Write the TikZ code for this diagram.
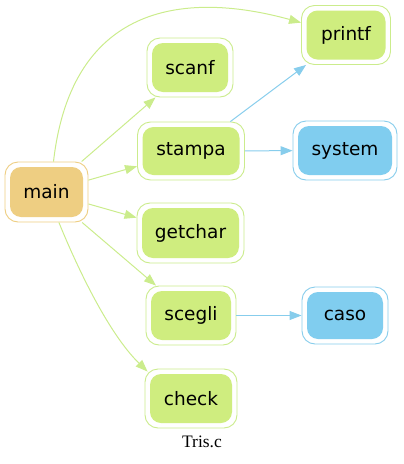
\documentclass[tikz,border=0pt]{standalone}
\usepackage{fontspec}
\setmainfont{DejaVu Sans}
\newfontfamily\capfont{Liberation Serif}
\usetikzlibrary{arrows.meta}
\definecolor{gfill}{RGB}{207,237,127}
\definecolor{ofill}{RGB}{238,206,130}
\definecolor{bfill}{RGB}{128,205,239}
\definecolor{gedge}{RGB}{203,236,140}
\definecolor{bedge}{RGB}{135,205,236}
\begin{document}
\begin{tikzpicture}[x=1pt,y=-1pt,
  outerbox/.style={rectangle, draw=#1, line width=0.9pt, rounded corners=13pt, inner sep=0pt, fill=white},
  innerbox/.style={rectangle, fill=#1, rounded corners=11pt, inner sep=0pt, text=black, font=\fontsize{18.5}{20}\selectfont},
  gline/.style={draw=gedge, line width=1pt, -{Triangle[length=12pt,width=9pt]}},
  bline/.style={draw=bedge, line width=1pt, -{Triangle[length=12pt,width=9pt]}}]
\useasboundingbox (0,0) rectangle (404,464);
% main
\node[outerbox=ofill, minimum width=83pt, minimum height=60pt] (main) at (46.5,192) {};
\node[innerbox=ofill, minimum width=73pt, minimum height=50pt] (mainin) at (main) {main};
% scanf
\node[outerbox=gedge, minimum width=86pt, minimum height=59pt] (scanf) at (190,67.5) {};
\node[innerbox=gfill, minimum width=76pt, minimum height=49pt] (scanfin) at (scanf) {scanf};
% printf
\node[outerbox=gedge, minimum width=89pt, minimum height=59pt] (printf) at (346,35) {};
\node[innerbox=gfill, minimum width=79pt, minimum height=49pt] (printfin) at (printf) {printf};
% stampa
\node[outerbox=gedge, minimum width=107pt, minimum height=58pt] (stampa) at (191,151) {};
\node[innerbox=gfill, minimum width=97pt, minimum height=48pt] (stampain) at (stampa) {stampa};
% system
\node[outerbox=bedge, minimum width=104pt, minimum height=59pt] (system) at (345,150.5) {};
\node[innerbox=bfill, minimum width=94pt, minimum height=49pt] (systemin) at (system) {system};
% getchar
\node[outerbox=gedge, minimum width=107pt, minimum height=60pt] (getchar) at (190.5,233) {};
\node[innerbox=gfill, minimum width=97pt, minimum height=50pt] (getcharin) at (getchar) {getchar};
% scegli
\node[outerbox=gedge, minimum width=90pt, minimum height=59pt] (scegli) at (191,315.5) {};
\node[innerbox=gfill, minimum width=80pt, minimum height=49pt] (sceglin) at (scegli) {scegli};
% caso
\node[outerbox=bedge, minimum width=86pt, minimum height=57pt] (caso) at (345,315.5) {};
\node[innerbox=bfill, minimum width=76pt, minimum height=47pt] (casoin) at (caso) {caso};
% check
\node[outerbox=gedge, minimum width=92pt, minimum height=59pt] (check) at (191,398.5) {};
\node[innerbox=gfill, minimum width=82pt, minimum height=49pt] (checkin) at (check) {check};
% caption
\node[anchor=base, inner sep=0pt, font=\capfont\fontsize{17.5}{20}\selectfont] (cap) at (202,447) {Tris.c};
% edges
\draw[gline] ([xshift=7pt]main.north) .. controls (72,0) and (190,-8) .. (printf);
\draw[gline] (main) -- (scanf);
\draw[gline] (main) -- (stampa);
\draw[gline] (main) -- (getchar);
\draw[gline] (main) -- (scegli);
\draw[gline] (main) .. controls (75,262) and (107,332) .. ([xshift=3pt,yshift=-3pt]check.north west);
\draw[bline] (stampa) -- (printf);
\draw[bline] (stampa) -- (system);
\draw[bline] (scegli) -- (caso);
\end{tikzpicture}
\end{document}
